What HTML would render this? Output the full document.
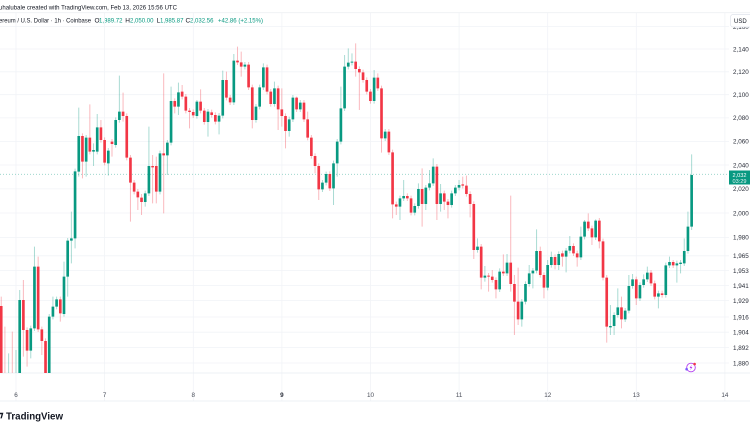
<!DOCTYPE html>
<html><head><meta charset="utf-8"><style>
html,body{margin:0;padding:0;background:#fff;}
svg{display:block;font-family:"Liberation Sans",sans-serif;}
</style></head><body>
<svg width="750" height="430" viewBox="0 0 750 430" xmlns="http://www.w3.org/2000/svg">
<rect width="750" height="430" fill="#fff"/>
<defs><clipPath id="pane"><rect x="0" y="13" width="729" height="360"/></clipPath></defs>

<!-- header -->
<text x="-1" y="9.3" font-size="6.5" fill="#131722" textLength="178" lengthAdjust="spacingAndGlyphs">uhalubale created with TradingView.com, Feb 13, 2026 15:56 UTC</text>
<line x1="0" y1="12.7" x2="750" y2="12.7" stroke="#eef0f4" stroke-width="0.8"/>
<g font-size="6.5" fill="#131722">
<text x="-1" y="22.6" textLength="92" lengthAdjust="spacingAndGlyphs">ereum / U.S. Dollar · 1h · Coinbase</text>
<text x="94.5" y="22.6">O</text><text x="99" y="22.6" fill="#089981" textLength="23.5" lengthAdjust="spacingAndGlyphs">1,989.72</text>
<text x="125.3" y="22.6">H</text><text x="130" y="22.6" fill="#089981" textLength="23.5" lengthAdjust="spacingAndGlyphs">2,050.00</text>
<text x="156.5" y="22.6">L</text><text x="160" y="22.6" fill="#089981" textLength="23.5" lengthAdjust="spacingAndGlyphs">1,985.87</text>
<text x="185.5" y="22.6">C</text><text x="190" y="22.6" fill="#089981" textLength="23.5" lengthAdjust="spacingAndGlyphs">2,032.56</text>
<text x="218" y="22.6" fill="#089981" textLength="45" lengthAdjust="spacingAndGlyphs">+42.86 (+2.15%)</text>
</g>

<!-- grid -->
<g stroke="#f1f3f7" stroke-width="0.8">
<line x1="0" y1="26.5" x2="729" y2="26.5"/>
<line x1="0" y1="49" x2="729" y2="49"/>
<line x1="0" y1="71.8" x2="729" y2="71.8"/>
<line x1="0" y1="94.7" x2="729" y2="94.7"/>
<line x1="0" y1="117.9" x2="729" y2="117.9"/>
<line x1="0" y1="141.4" x2="729" y2="141.4"/>
<line x1="0" y1="165" x2="729" y2="165"/>
<line x1="0" y1="188.9" x2="729" y2="188.9"/>
<line x1="0" y1="213" x2="729" y2="213"/>
<line x1="0" y1="237.4" x2="729" y2="237.4"/>
<line x1="0" y1="255.8" x2="729" y2="255.8"/>
<line x1="0" y1="270.6" x2="729" y2="270.6"/>
<line x1="0" y1="285.6" x2="729" y2="285.6"/>
<line x1="0" y1="300.6" x2="729" y2="300.6"/>
<line x1="0" y1="317" x2="729" y2="317"/>
<line x1="0" y1="332.2" x2="729" y2="332.2"/>
<line x1="0" y1="347.6" x2="729" y2="347.6"/>
<line x1="0" y1="363" x2="729" y2="363"/>
<line x1="16" y1="13" x2="16" y2="401"/>
<line x1="104.6" y1="13" x2="104.6" y2="401"/>
<line x1="193.3" y1="13" x2="193.3" y2="401"/>
<line x1="281.9" y1="13" x2="281.9" y2="401"/>
<line x1="370.5" y1="13" x2="370.5" y2="401"/>
<line x1="459.1" y1="13" x2="459.1" y2="401"/>
<line x1="547.7" y1="13" x2="547.7" y2="401"/>
<line x1="636.3" y1="13" x2="636.3" y2="401"/>
<line x1="724.9" y1="13" x2="724.9" y2="401"/>
</g>
<line x1="0" y1="373" x2="750" y2="373" stroke="#e9ecf2" stroke-width="0.8"/>
<line x1="0" y1="401" x2="750" y2="401" stroke="#e9ecf2" stroke-width="0.8"/>

<!-- last price line -->
<line x1="0" y1="174.3" x2="729" y2="174.3" stroke="#089981" stroke-opacity="0.45" stroke-width="0.8" stroke-dasharray="1 2"/>

<!-- candles -->
<g clip-path="url(#pane)">
<g transform="translate(16,30) scale(3.692,0.33333)">
<path fill="none" stroke="#089981" stroke-opacity="0.35" stroke-width="1" vector-effect="non-scaling-stroke" d="M-2 970V1040M0 960V1040M1 780V1040M4 887V985M5 650V903M9 852V1040M10 800V868M11 800V838M13 695V860M14 624V800M15 545V700M16 416V655M17 233V440M19 315V440M21 340V408M22 252V373M25 354V437M27 262V353M28 137V278M35 482V530M36 290V498M39 362V493M41 330V435M42 170V346M44 158V255M49 210V266M52 237V320M55 249V313M56 122V265M59 72V225M62 96V118M65 222V278M66 164V238M67 100V180M70 155V230M74 260V320M75 195V276M77 210V246M83 450V486M84 425V466M86 392V525M87 327V440M88 170V343M89 75V243M90 55V118M91 70V106M97 120V221M100 297V333M104 497V570M105 450V513M108 520V556M109 460V536M111 465V540M112 420V481M113 385V468M115 462V545M118 482V533M119 465V498M120 450V481M125 625V668M127 708V755M131 715V786M133 672V738M137 807V890M138 754V823M139 705V770M140 714V775M141 598V730M144 690V781M145 665V713M147 664V720M149 654V727M150 618V670M153 590V690M154 570V628M157 568V630M161 825V915M162 847V915M163 775V863M165 834V876M166 735V850M167 732V776M169 757V813M170 733V773M171 710V756M174 782V835M176 698V803M177 680V714M179 692V758M180 690V730M181 625V708M182 545V671M183 373V600"/>
<path fill="none" stroke="#F23645" stroke-opacity="0.35" stroke-width="1" vector-effect="non-scaling-stroke" d="M-4 800V1040M-3 890V1040M-1 905V1040M2 750V980M3 892V1010M6 680V906M7 890V975M8 925V1040M12 800V875M18 310V445M20 223V373M23 270V338M24 322V406M26 327V380M29 188V275M30 250V391M31 375V575M32 450V493M33 477V540M34 492V555M37 375V520M38 380V520M40 130V550M43 205V250M45 165V208M46 192V250M47 234V295M48 238V264M50 178V250M51 234V284M53 239V263M54 247V283M57 125V211M58 195V225M60 50V105M61 65V140M63 96V180M64 164V295M68 104V193M69 177V230M71 167V300M72 175V290M73 250V355M76 200V246M78 210V276M79 245V331M80 315V386M81 370V430M82 400V510M85 424V483M92 40V140M93 109V240M94 119V158M95 142V193M96 177V221M98 130V183M99 167V368M101 297V375M102 359V565M103 515V555M106 490V513M107 497V556M110 415V590M114 402V570M116 482V540M117 507V565M121 440V475M122 437V500M123 484V562M124 514V687M126 642V778M128 729V785M129 720V758M130 742V805M132 673V738M134 497V785M135 735V915M136 713V885M142 650V743M143 727V805M146 673V718M148 662V710M151 640V678M152 662V710M155 550V603M156 587V645M158 564V655M159 626V751M160 735V938M164 800V895M168 740V825M172 720V768M173 752V808M175 782V803M178 690V714"/>
<path fill="#089981" d="M.64 810h.72V1040h-.72zM3.64 895h.72V962h-.72zM4.64 710h.72V895h-.72zM8.64 860h.72V1040h-.72zM9.64 830h.72V860h-.72zM10.64 808h.72V830h-.72zM12.64 740h.72V852h-.72zM13.64 632h.72V740h-.72zM14.64 625h.72V632h-.72zM15.64 424h.72V625h-.72zM16.64 318h.72V425h-.72zM18.64 323h.72V395h-.72zM20.64 360h.72V365h-.72zM21.64 292h.72V365h-.72zM24.64 362h.72V400h-.72zM26.64 270h.72V345h-.72zM27.64 245h.72V270h-.72zM34.64 490h.72V516h-.72zM35.64 408h.72V490h-.72zM38.64 370h.72V485h-.72zM40.64 338h.72V376h-.72zM41.64 213h.72V338h-.72zM43.64 187h.72V230h-.72zM48.64 215h.72V258h-.72zM51.64 245h.72V276h-.72zM54.64 257h.72V275h-.72zM55.64 150h.72V257h-.72zM58.64 92h.72V217h-.72zM61.64 104h.72V110h-.72zM64.64 230h.72V270h-.72zM65.64 172h.72V230h-.72zM66.64 112h.72V172h-.72zM69.64 175h.72V222h-.72zM73.64 268h.72V303h-.72zM74.64 203h.72V268h-.72zM76.64 218h.72V238h-.72zM82.64 458h.72V478h-.72zM83.64 432h.72V458h-.72zM85.64 400h.72V475h-.72zM86.64 335h.72V400h-.72zM87.64 235h.72V335h-.72zM88.64 110h.72V235h-.72zM89.64 98h.72V110h-.72zM90.64 95h.72V98h-.72zM96.64 143h.72V213h-.72zM99.64 305h.72V325h-.72zM103.64 505h.72V530h-.72zM104.64 498h.72V505h-.72zM107.64 528h.72V548h-.72zM108.64 477h.72V528h-.72zM110.64 473h.72V522h-.72zM111.64 460h.72V473h-.72zM112.64 410h.72V460h-.72zM114.64 490h.72V522h-.72zM117.64 490h.72V525h-.72zM118.64 473h.72V490h-.72zM119.64 465h.72V473h-.72zM124.64 650h.72V660h-.72zM126.64 737h.72V743h-.72zM130.64 725h.72V778h-.72zM132.64 698h.72V730h-.72zM136.64 815h.72V868h-.72zM137.64 762h.72V815h-.72zM138.64 730h.72V762h-.72zM139.64 722h.72V730h-.72zM140.64 663h.72V722h-.72zM143.64 705h.72V773h-.72zM144.64 681h.72V705h-.72zM146.64 672h.72V705h-.72zM148.64 662h.72V680h-.72zM149.64 648h.72V662h-.72zM152.64 620h.72V682h-.72zM153.64 575h.72V620h-.72zM156.64 572h.72V622h-.72zM160.64 888h.72V892h-.72zM161.64 855h.72V888h-.72zM162.64 832h.72V855h-.72zM164.64 842h.72V868h-.72zM165.64 768h.72V842h-.72zM166.64 748h.72V768h-.72zM168.64 765h.72V805h-.72zM169.64 748h.72V765h-.72zM170.64 728h.72V748h-.72zM173.64 790h.72V800h-.72zM175.64 706h.72V795h-.72zM176.64 696h.72V706h-.72zM178.64 700h.72V706h-.72zM179.64 698h.72V702h-.72zM180.64 663h.72V700h-.72zM181.64 590h.72V663h-.72zM182.64 435h.72V590h-.72z"/>
<path fill="#F23645" d="M-4.36 828h.72V1040h-.72zM1.64 810h.72V900h-.72zM2.64 900h.72V962h-.72zM5.64 710h.72V898h-.72zM6.64 898h.72V933h-.72zM7.64 933h.72V1040h-.72zM11.64 808h.72V850h-.72zM17.64 318h.72V395h-.72zM19.64 323h.72V365h-.72zM22.64 292h.72V330h-.72zM23.64 330h.72V398h-.72zM25.64 335h.72V342h-.72zM28.64 245h.72V258h-.72zM29.64 258h.72V383h-.72zM30.64 383h.72V458h-.72zM31.64 458h.72V485h-.72zM32.64 485h.72V502h-.72zM33.64 503h.72V516h-.72zM36.64 408h.72V412h-.72zM37.64 408h.72V485h-.72zM39.64 370h.72V376h-.72zM42.64 213h.72V230h-.72zM44.64 185h.72V200h-.72zM45.64 200h.72V242h-.72zM46.64 242h.72V246h-.72zM47.64 246h.72V256h-.72zM49.64 215h.72V242h-.72zM50.64 242h.72V276h-.72zM52.64 247h.72V255h-.72zM53.64 255h.72V275h-.72zM56.64 150h.72V203h-.72zM57.64 203h.72V217h-.72zM59.64 92h.72V97h-.72zM60.64 97h.72V110h-.72zM62.64 104h.72V172h-.72zM63.64 172h.72V270h-.72zM67.64 112h.72V185h-.72zM68.64 185h.72V222h-.72zM70.64 175h.72V238h-.72zM71.64 238h.72V258h-.72zM72.64 258h.72V303h-.72zM75.64 203h.72V238h-.72zM77.64 218h.72V268h-.72zM78.64 268h.72V323h-.72zM79.64 323h.72V378h-.72zM80.64 378h.72V408h-.72zM81.64 408h.72V478h-.72zM84.64 432h.72V475h-.72zM91.64 95h.72V117h-.72zM92.64 117h.72V127h-.72zM93.64 127h.72V150h-.72zM94.64 150h.72V185h-.72zM95.64 185h.72V213h-.72zM97.64 143h.72V175h-.72zM98.64 175h.72V325h-.72zM100.64 305h.72V367h-.72zM101.64 367h.72V523h-.72zM102.64 523h.72V530h-.72zM105.64 498h.72V505h-.72zM106.64 505h.72V548h-.72zM109.64 477h.72V522h-.72zM113.64 410h.72V522h-.72zM115.64 490h.72V515h-.72zM116.64 515h.72V525h-.72zM120.64 463h.72V467h-.72zM121.64 467h.72V492h-.72zM122.64 492h.72V522h-.72zM123.64 522h.72V660h-.72zM125.64 650h.72V743h-.72zM127.64 737h.72V740h-.72zM128.64 740h.72V750h-.72zM129.64 750h.72V778h-.72zM131.64 725h.72V730h-.72zM133.64 698h.72V762h-.72zM134.64 762h.72V815h-.72zM135.64 815h.72V868h-.72zM141.64 663h.72V735h-.72zM142.64 735h.72V773h-.72zM145.64 681h.72V705h-.72zM147.64 670h.72V680h-.72zM150.64 648h.72V670h-.72zM151.64 670h.72V682h-.72zM154.64 575h.72V595h-.72zM155.64 595h.72V622h-.72zM157.64 572h.72V634h-.72zM158.64 634h.72V743h-.72zM159.64 743h.72V890h-.72zM163.64 832h.72V868h-.72zM167.64 748h.72V805h-.72zM171.64 728h.72V760h-.72zM172.64 760h.72V800h-.72zM174.64 790h.72V795h-.72zM177.64 696h.72V706h-.72z"/>
</g>
</g>

<!-- price axis labels -->
<g font-size="6.3" fill="#2a2e39">
<text x="733" y="28.8">2,160</text>
<text x="733" y="51.3">2,140</text>
<text x="733" y="74.1">2,120</text>
<text x="733" y="97">2,100</text>
<text x="733" y="120.2">2,080</text>
<text x="733" y="143.7">2,060</text>
<text x="733" y="167.3">2,040</text>
<text x="733" y="191.2">2,020</text>
<text x="733" y="215.3">2,000</text>
<text x="733" y="239.7">1,980</text>
<text x="733" y="258.1">1,965</text>
<text x="733" y="272.9">1,953</text>
<text x="733" y="287.9">1,941</text>
<text x="733" y="302.9">1,929</text>
<text x="733" y="319.3">1,916</text>
<text x="733" y="334.5">1,904</text>
<text x="733" y="349.9">1,892</text>
<text x="733" y="365.3">1,880</text>
</g>
<rect x="730.5" y="14.5" width="22" height="12.5" rx="2.5" fill="#fff" stroke="#e0e3eb" stroke-width="0.7"/>
<text x="734" y="22.9" font-size="6" fill="#131722">USD</text>

<!-- last price tag -->
<rect x="729" y="170.5" width="21" height="14" fill="#089981"/>
<text x="732.5" y="176.8" font-size="5.6" fill="#fff">2,032</text>
<text x="732.5" y="183" font-size="5.6" fill="#e6f5f2">03:29</text>

<!-- time axis -->
<g font-size="6.3" fill="#4a4e59" text-anchor="middle">
<text x="16" y="397.2">6</text>
<text x="104.6" y="397.2">7</text>
<text x="193.3" y="397.2">8</text>
<text x="281.9" y="397.2" font-weight="bold" fill="#2a2e39">9</text>
<text x="370.5" y="397.2">10</text>
<text x="459.1" y="397.2">11</text>
<text x="547.7" y="397.2">12</text>
<text x="636.3" y="397.2">13</text>
<text x="724.9" y="397.2">14</text>
</g>

<!-- icon -->
<circle cx="691" cy="367.5" r="4.3" fill="none" stroke="#b43ef0" stroke-width="0.9"/>
<path d="M691.8 364.6 L689.6 368 L691 368 L690.2 370.4 L692.4 367 L691 367 Z" fill="#b43ef0"/>
<circle cx="694.6" cy="364" r="1.3" fill="#f23645"/>
<circle cx="686.6" cy="369.2" r="1.3" fill="#7b5cff"/>

<!-- TradingView logo -->
<path d="M0 412.8 H3.4 L1.8 418.4 H0.4 L1.6 414.2 H0 Z" fill="#131722"/>
<text x="6" y="419.6" font-size="10" font-weight="bold" fill="#131722" textLength="57" lengthAdjust="spacingAndGlyphs">TradingView</text>
</svg>
</body></html>
